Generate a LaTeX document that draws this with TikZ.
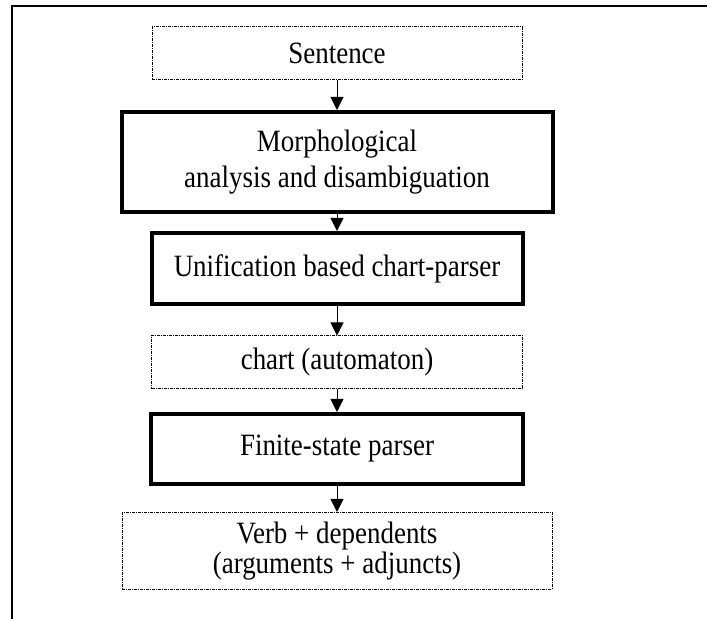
\documentclass[tikz,border=0pt]{standalone}
\usepackage{fontspec}
\setmainfont{Liberation Serif}[FakeStretch=0.87]
\usetikzlibrary{arrows.meta}
\begin{document}
\begin{tikzpicture}[x=0.5pt,y=-0.5pt,
  >={Triangle[width=6.5pt,length=6.5pt]},
  every node/.style={font=\fontsize{15.5}{18}\selectfont,align=center,inner sep=0pt},
  data/.style={draw,line width=0.5pt,dash pattern=on 1.5pt off 0.5pt on 0.5pt off 0.5pt},
  proc/.style={draw,line width=2pt}]
\useasboundingbox (0,0) rectangle (707,619);
\draw[line width=1pt] (12,619) -- (12,6) -- (707,6);
\node[data,minimum width=185pt,minimum height=26.5pt] (sent) at (337,53.5) {Sentence};
\node[proc,minimum width=215.5pt,minimum height=50pt] (morph) at (337,162) {Morphological\\analysis and disambiguation};
\node[proc,minimum width=185.5pt,minimum height=35.5pt] (unif) at (337,268.5) {Unification based chart-parser};
\node[data,minimum width=185.5pt,minimum height=26.5pt] (chart) at (337,362.5) {chart (automaton)};
\node[proc,minimum width=186pt,minimum height=35pt] (fsp) at (337,449) {Finite-state parser};
\node[data,minimum width=215pt,minimum height=38.5pt,font=\fontsize{15.5}{15}\selectfont] (verb) at (337,551) {Verb + dependents\\(arguments + adjuncts)};
\draw[->,line width=0.5pt] (sent) -- (morph);
\draw[->,line width=0.5pt] (morph) -- (unif);
\draw[->,line width=0.5pt] (unif) -- (chart);
\draw[->,line width=0.5pt] (chart) -- (fsp);
\draw[->,line width=0.5pt] (fsp) -- (verb);
\end{tikzpicture}
\end{document}
